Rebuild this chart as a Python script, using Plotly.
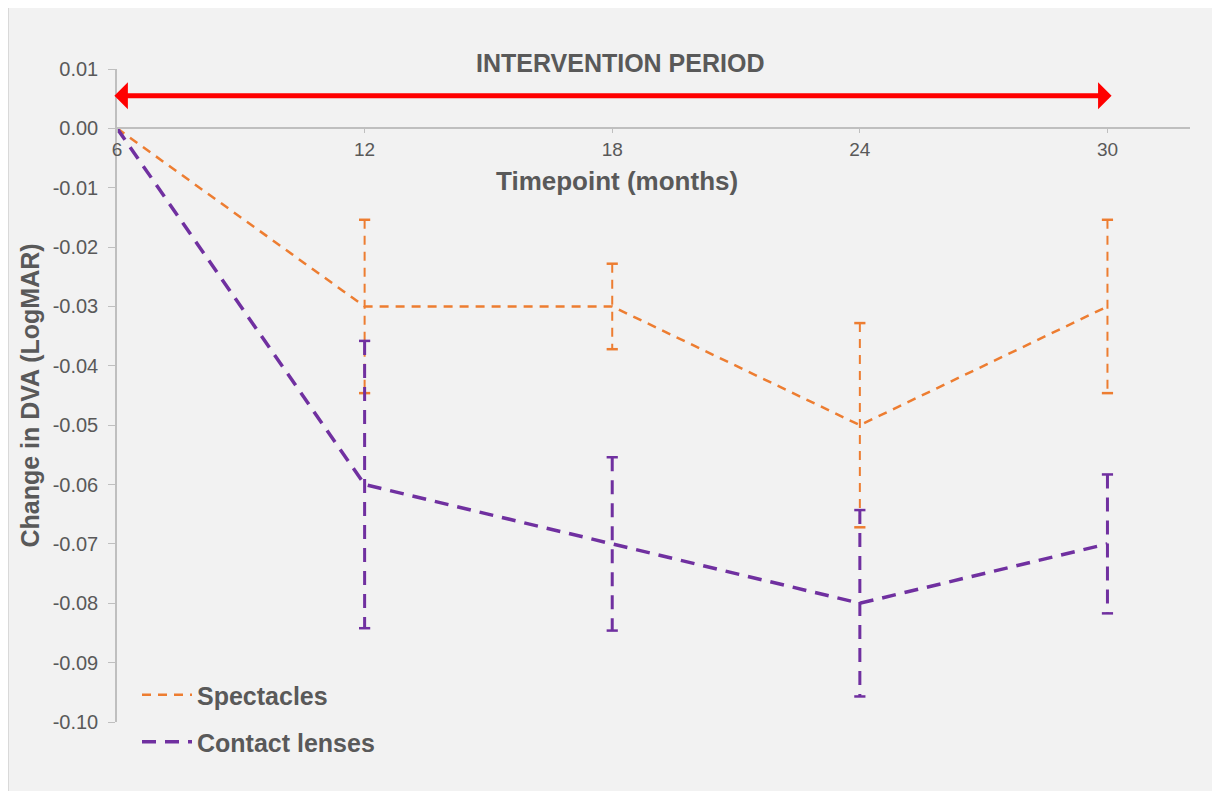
import plotly.graph_objects as go

months = [6, 12, 18, 24, 30]
spectacles = [0.0, -0.03, -0.03, -0.05, -0.03]
spectacles_err = [0.0, 0.0146, 0.0072, 0.0172, 0.0146]
contact = [0.0, -0.06, -0.07, -0.08, -0.07]
contact_err = [0.0, 0.0242, 0.0146, 0.0157, 0.0117]
y_ticks = [0.01, 0.0, -0.01, -0.02, -0.03, -0.04, -0.05, -0.06, -0.07, -0.08, -0.09, -0.10]
x_ticks = [6, 12, 18, 24, 30]

ORANGE = "#ED7D31"
PURPLE = "#7030A0"
GRAY = "#595959"
AXIS = "#BFBFBF"
FONT = "Liberation Sans, Arial, sans-serif"

# page has an 8px body margin; figure coords = page coords - 8
OFF = 8
L, R, T, B = 117 - OFF, 1190 - OFF, 69 - OFF, 722 - OFF
W, H = 1212, 783
PW, PH = R - L, B - T


def px(p):
    return (p - OFF - L) / PW


def py(p):
    return (B - (p - OFF)) / PH


fig = go.Figure()


def add_series(name, xs, ys, errs, color, width, dash, legend):
    ex, ey, cx, cy = [], [], [], []
    for x, y, e in zip(xs, ys, errs):
        if e > 0:
            ex += [x, x, None]
            ey += [y + e, y - e, None]
            cx += [x, x]
            cy += [y + e, y - e]
    fig.add_trace(go.Scatter(x=ex, y=ey, mode="lines", showlegend=False,
                             line=dict(color=color, width=width - 0.5, dash=dash),
                             hoverinfo="skip"))
    fig.add_trace(go.Scatter(x=cx, y=cy, mode="markers", showlegend=False,
                             marker=dict(symbol="line-ew", size=8,
                                         line=dict(color=color, width=2.5)),
                             hoverinfo="skip"))
    fig.add_trace(go.Scatter(x=xs, y=ys, mode="lines", name=name, legend=legend,
                             line=dict(color=color, width=width, dash=dash)))


add_series("Spectacles", months, spectacles, spectacles_err, ORANGE, 2.5, "9px,7px", "legend")
add_series("Contact lenses", months, contact, contact_err, PURPLE, 3.5, "14px,9px", "legend2")

fig.add_shape(type="rect", xref="paper", yref="paper",
              x0=px(8.5), x1=px(1214), y0=py(800), y1=py(6.5),
              fillcolor="#F2F2F2", line=dict(color="#D9D9D9", width=1), layer="below")

fig.add_annotation(x=30.1, y=0.0055, ax=5.9, ay=0.0055, xref="x", yref="y",
                   axref="x", ayref="y", showarrow=True, arrowside="end+start",
                   arrowhead=1, arrowsize=0.9, arrowwidth=5, arrowcolor="#FF0000", text="")

fig.add_annotation(x=px(620), y=py(63), xref="paper", yref="paper", yanchor="middle",
                   text="<b>INTERVENTION PERIOD</b>", showarrow=False,
                   font=dict(family=FONT, size=25, color=GRAY))
fig.add_annotation(x=px(617), y=py(181), xref="paper", yref="paper", yanchor="middle",
                   text="<b>Timepoint (months)</b>", showarrow=False,
                   font=dict(family=FONT, size=26, color=GRAY))

leg_font = dict(family=FONT, size=25, color=GRAY, weight="bold")
fig.update_layout(
    width=W, height=H,
    margin=dict(l=L, r=W - R, t=T, b=H - B),
    paper_bgcolor="white", plot_bgcolor="rgba(0,0,0,0)",
    font=dict(family=FONT, color=GRAY),
    xaxis=dict(range=[6, 32], anchor="free", position=0.1 / 0.11,
               tickvals=x_ticks, ticktext=[str(v) for v in x_ticks],
               showline=True, linecolor=AXIS, linewidth=1.5,
               ticks="outside", ticklen=4, tickcolor=AXIS,
               showgrid=False, zeroline=False,
               tickfont=dict(family=FONT, size=19, color=GRAY)),
    yaxis=dict(range=[-0.10, 0.01], tickvals=y_ticks,
               ticktext=[f"{v:.2f}".replace("-0.00", "0.00") for v in y_ticks],
               showline=True, linecolor=AXIS, linewidth=1.5,
               ticks="outside", ticklen=7, tickcolor=AXIS, ticklabelstandoff=6,
               showgrid=False, zeroline=False,
               tickfont=dict(family=FONT, size=20, color=GRAY),
               title=dict(text="<b>Change in DVA (LogMAR)</b>", standoff=6,
                          font=dict(family=FONT, size=25, color=GRAY))),
    legend=dict(x=px(137), y=py(695), yanchor="middle",
                xanchor="left", bgcolor="rgba(0,0,0,0)", font=leg_font, itemwidth=50),
    legend2=dict(x=px(137), y=py(742), yanchor="middle",
                 xanchor="left", bgcolor="rgba(0,0,0,0)", font=leg_font, itemwidth=50),
)

fig.write_html("out.html")
